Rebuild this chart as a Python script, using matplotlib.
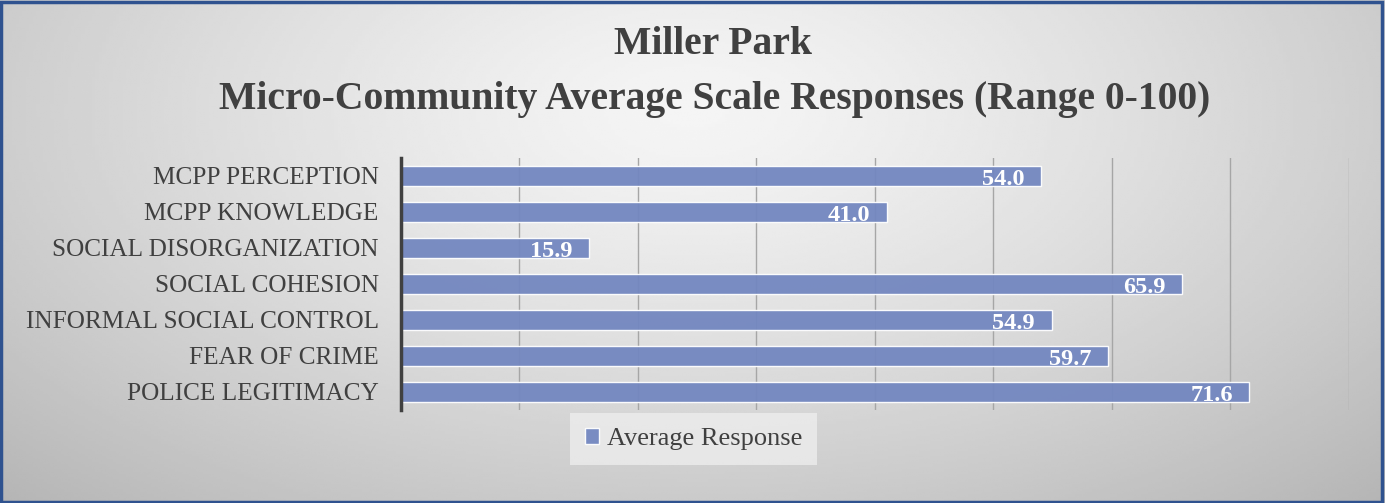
import numpy as np
import matplotlib
matplotlib.use('Agg')
import matplotlib.pyplot as plt

# 데이터
categories = ['MCPP PERCEPTION', 'MCPP KNOWLEDGE', 'SOCIAL DISORGANIZATION',
              'SOCIAL COHESION', 'INFORMAL SOCIAL CONTROL', 'FEAR OF CRIME',
              'POLICE LEGITIMACY']
values = [54.0, 41.0, 15.9, 65.9, 54.9, 59.7, 71.6]
series_name = 'Average Response'
title_line1 = 'Miller Park'
title_line2 = 'Micro-Community Average Scale Responses (Range 0-100)'

plt.rcParams['font.family'] = ['Liberation Serif', 'DejaVu Serif']
text_color = '#404040'
bar_color = '#7387C0'

fig = plt.figure(figsize=(13.85, 5.03), dpi=100)

# 배경 : 방사형 그라데이션
bg = fig.add_axes([0, 0, 1, 1], zorder=-10)
gx, gy = np.meshgrid(np.linspace(0, 1, 400), np.linspace(0, 1, 200))
r = np.sqrt(((gx - 0.5) / 0.75) ** 2 + ((gy - 0.78) / 1.1) ** 2)
shade = np.clip(0.96 - 0.26 * r ** 1.3, 0, 1)
bg.imshow(shade, cmap='gray', vmin=0, vmax=1, extent=[0, 1, 0, 1],
          origin='lower', aspect='auto', interpolation='bilinear')
bg.set_xlim(0, 1)
bg.set_ylim(0, 1)
bg.axis('off')
bg.add_patch(plt.Rectangle((0.001, 0.002), 0.997, 0.995, fill=False,
                           edgecolor='#2F528F', linewidth=2.5,
                           transform=bg.transAxes))

# 막대 그래프
ax = fig.add_axes([0.2895, 0.185, 0.6845, 0.501])
ax.set_facecolor('none')
y = np.arange(len(categories))
bars = ax.barh(y, values, height=0.57, color=bar_color, alpha=0.95,
               edgecolor='white', linewidth=1, zorder=3, label=series_name)
ax.set_ylim(len(categories) - 0.5, -0.5)
ax.set_xlim(0, 80)
ax.set_yticks(y)
ax.set_yticklabels(categories, fontsize=18.2, color=text_color)
ax.set_xticks(np.arange(0, 81, 10))
ax.set_xticklabels([])
ax.tick_params(axis='both', length=0, pad=16)
ax.grid(axis='x', color='#A6A6A6', linewidth=1, zorder=1)
for side in ['top', 'right', 'bottom']:
    ax.spines[side].set_visible(False)
ax.spines['left'].set_color('#404040')
ax.spines['left'].set_linewidth(2.5)
ax.spines['left'].set_zorder(5)

# 값 레이블 (막대 안쪽 끝)
for b, v in zip(bars, values):
    ax.text(v - 1.4, b.get_y() + b.get_height() - 0.04, f'{v:.1f}',
            ha='right', va='baseline', color='white', fontsize=17.5,
            fontweight='bold', zorder=4)

leg = fig.legend(loc='center', bbox_to_anchor=(0.501, 0.127), frameon=True,
                 fontsize=19, handlelength=0.55, handleheight=0.55,
                 handletextpad=0.3, borderpad=0.35, borderaxespad=0)
leg.get_frame().set_facecolor('#EDEDED')
leg.get_frame().set_edgecolor('none')
leg.get_frame().set_alpha(0.8)
leg.get_frame().set_boxstyle('square', pad=0.2)
for t in leg.get_texts():
    t.set_color(text_color)

# 제목
fig.text(0.515, 0.912, title_line1, ha='center', va='center', fontsize=28.5,
         fontweight='bold', color=text_color)
fig.text(0.516, 0.803, title_line2, ha='center', va='center', fontsize=28.5,
         fontweight='bold', color=text_color)

plt.savefig('out.png', dpi=100)
